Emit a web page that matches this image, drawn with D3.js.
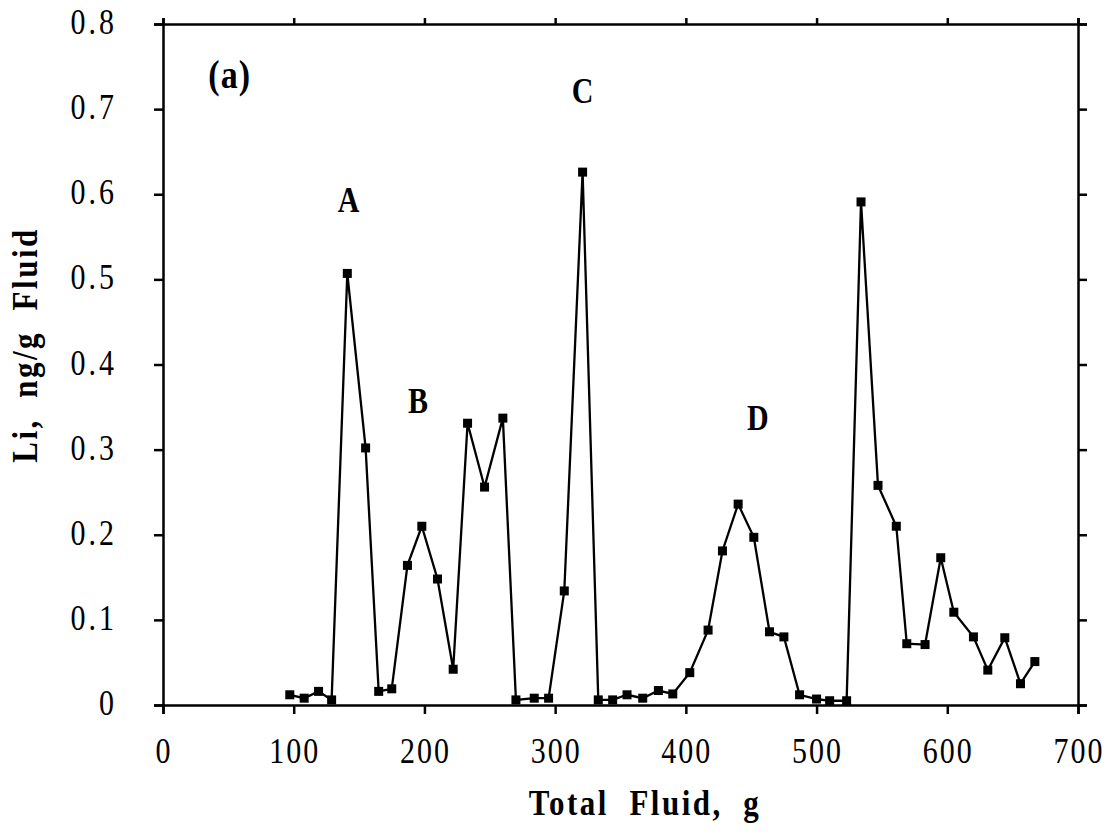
<!DOCTYPE html>
<html><head><meta charset="utf-8">
<script src="https://cdn.jsdelivr.net/npm/d3@7"></script>
<style>body{margin:0;background:#fff;} svg{display:block;} text{white-space:pre;}</style>
</head><body>
<script>
const fluid = [97,108,119,129,141,155,165,175,187,198,210,222,233,246,260,270,284,295,307,321,333,344,355,367,379,390,403,417,428,440,452,464,475,487,500,510,523,534,547,561,569,583,595,605,620,631,644,656,667];
const li = [0.012,0.008,0.016,0.006,0.507,0.302,0.016,0.019,0.164,0.210,0.148,0.042,0.331,0.256,0.337,0.006,0.008,0.008,0.134,0.626,0.006,0.006,0.012,0.008,0.017,0.013,0.038,0.088,0.181,0.236,0.197,0.086,0.080,0.012,0.007,0.005,0.005,0.591,0.258,0.210,0.072,0.071,0.173,0.109,0.080,0.041,0.079,0.025,0.051];
const xTicks = [0,100,200,300,400,500,600,700];
const yTicks = [0,0.1,0.2,0.3,0.4,0.5,0.6,0.7,0.8];
const peakNames = ["A","B","C","D"];
const peakX = [142,195,321,455];
const peakY = [0.579,0.343,0.707,0.323];

const W=1119,H=834;
const svg=d3.select("body").append("svg").attr("width",W).attr("height",H);
const x=d3.scaleLinear().domain([0,700]).range([163,1078]);
const y=d3.scaleLinear().domain([0,0.8]).range([705,24]);
const font="'Liberation Serif','Times New Roman',serif";
const SY=1.18;

function label(px,py,txt,size,bold,anchor,rot,ls){
  return svg.append("text")
    .attr("transform",`translate(${px},${py})`+(rot?` rotate(${rot})`:"")+` scale(1,${SY})`)
    .attr("text-anchor",anchor||"middle").attr("font-family",font)
    .attr("font-weight",bold?"bold":"normal").attr("font-size",size).attr("fill","#000")
    .attr("letter-spacing",ls||0).text(txt);
}

const gx=svg.append("g").attr("transform","translate(0,705)")
  .call(d3.axisBottom(x).tickValues(xTicks).tickSize(9).tickFormat(""));
const gy=svg.append("g").attr("transform","translate(163,0)")
  .call(d3.axisLeft(y).tickValues(yTicks).tickSize(9).tickFormat(""));
const gt=svg.append("g").attr("transform","translate(0,24)")
  .call(d3.axisTop(x).tickValues(xTicks).tickSize(6).tickFormat(""));
const gr=svg.append("g").attr("transform","translate(1078,0)")
  .call(d3.axisRight(y).tickValues(yTicks).tickSize(9).tickFormat(""));
[gx,gy,gt,gr].forEach(g=>{
  g.selectAll("path").attr("stroke","#000").attr("stroke-width",2.5);
  g.selectAll("line").attr("stroke","#000").attr("stroke-width",2.5);
});

xTicks.forEach(v=>label(x(v)+1,763,d3.format("d")(v),30,false,"middle",0,2));
yTicks.forEach(v=>label(117,y(v)+10,v===0?"0":d3.format(".1f")(v),30,false,"end",0,3));

const pts=fluid.map((f,i)=>[f,li[i]]);
svg.append("path").datum(pts)
  .attr("d",d3.line().x(d=>x(d[0])).y(d=>y(d[1])))
  .attr("fill","none").attr("stroke","#000").attr("stroke-width",2.3);
svg.selectAll("rect.m").data(pts).enter().append("rect").attr("class","m")
  .attr("x",d=>x(d[0])-4.5).attr("y",d=>y(d[1])-4.5).attr("width",9).attr("height",9).attr("fill","#000");

peakNames.forEach((n,i)=>label(x(peakX[i]),y(peakY[i]),n,30,true,"middle"));

label(x(51),y(0.725),"(a)",34,true,"middle",0,1);

label(645,815,"Total  Fluid,  g",31,true,"middle",0,2.5);
label(37,345,"Li,  ng/g  Fluid",31,true,"middle",-90,2.5);
</script>
</body></html>
